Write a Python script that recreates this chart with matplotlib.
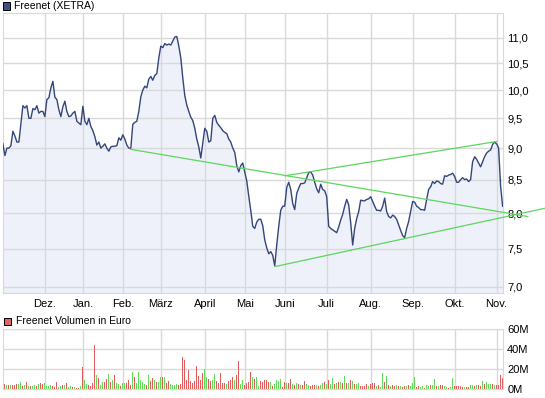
import numpy as np
import matplotlib.pyplot as plt
from matplotlib.patches import Rectangle

plt.rcParams['font.family'] = ['Liberation Sans', 'DejaVu Sans']

# Schlusskurse Freenet (XETRA), ein Wert pro Handelstag, Nov. bis Nov.
kurs = [
    9.07, 8.88, 9.0, 9.0, 9.04, 9.28, 9.2, 9.1, 9.1, 9.4,
    9.72, 9.68, 9.72, 9.5, 9.5, 9.67, 9.65, 9.72, 9.59, 9.62,
    9.62, 9.53, 9.83, 9.86, 10.04, 10.16, 9.87, 9.83, 9.65, 9.53,
    9.7, 9.8, 9.62, 9.53, 9.54, 9.59, 9.62, 9.45, 9.42, 9.39,
    9.71, 9.45, 9.39, 9.5, 9.36, 9.29, 9.19, 9.05, 9.1, 9.0,
    9.03, 9.07, 9.0, 8.95, 9.02, 9.03, 9.03, 9.04, 9.17, 9.13,
    9.22, 9.15, 9.05, 9.0,
    9.0, 9.4, 9.43, 9.45, 9.62, 9.88, 10.0, 10.07, 10.04, 10.2,
    10.25, 10.18, 10.27, 10.3, 10.6, 10.83, 10.8, 10.88, 10.85, 10.87,
    10.85, 10.93, 11.01, 11.02, 10.83, 10.6, 10.22, 9.9, 9.73, 9.62,
    9.52, 9.46, 9.33, 9.15, 9.02, 8.84, 9.08, 9.33, 9.28, 9.1,
    9.12, 9.5, 9.55, 9.43, 9.38, 9.34, 9.29, 9.26, 9.24, 9.15,
    9.1, 9.0, 8.93, 8.72, 8.62, 8.72, 8.76, 8.62, 8.48, 8.25,
    8.04,
    7.81, 7.78, 7.87, 7.91, 7.91, 7.82, 7.62, 7.51, 7.43, 7.46,
    7.41, 7.27, 7.55, 7.81, 8.04, 8.1, 8.1, 8.38, 8.46, 8.35,
    8.14, 8.05, 8.29, 8.37, 8.44, 8.44, 8.45, 8.53, 8.61, 8.62,
    8.57, 8.46, 8.36, 8.3, 8.43, 8.35, 8.33, 8.24, 7.81, 7.78,
    7.76, 7.74, 7.72, 7.8, 7.9, 7.98, 8.1, 8.2, 8.12, 7.86,
    7.55, 7.78, 7.92, 8.02, 8.19, 8.18, 8.18, 8.2, 8.21, 8.24,
    8.17, 8.1, 8.04,
    8.04, 8.03, 8.1, 8.22, 8.02, 7.95, 7.93, 7.97, 7.95, 7.91,
    7.83, 7.75, 7.68, 7.65, 7.78, 7.88, 8.02, 8.17, 8.16, 8.1,
    8.08, 8.05, 8.05, 8.04, 8.2, 8.35, 8.39, 8.47, 8.44, 8.48,
    8.47, 8.44, 8.43, 8.56, 8.55, 8.57, 8.58, 8.6, 8.55, 8.46,
    8.46, 8.5, 8.53, 8.5, 8.51, 8.47, 8.5, 8.78, 8.86, 8.82,
    8.76, 8.7, 8.78, 8.86, 8.92, 8.95, 8.97, 9.06, 9.1, 9.07,
    9.0, 8.4, 8.1,
]

# Umsatz in Mio. Euro pro Handelstag
volumen = [
    6.0, 5.3, 4.3, 4.3, 4.3, 4.3, 4.3, 5.3, 5.3, 7.3,
    3.7, 4.3, 7.3, 3.3, 3.3, 3.3, 4.3, 3.3, 5.3, 6.3,
    5.3, 6.3, 3.3, 3.3, 4.3, 3.3, 2.7, 7.3, 2.7, 3.3,
    4.3, 4.3, 6.3, 2.7, 3.3, 2.7, 2.7, 1.7, 1.7, 3.3,
    22.3, 9.3, 5.3, 4.3, 3.3, 6.3, 44.3, 14.3, 11.3, 4.3,
    7.3, 7.3, 10.3, 15.3, 7.3, 9.3, 14.3, 6.3, 5.3, 3.3,
    6.3, 6.3, 6.3, 9.3, 4.3, 17.3, 12.3, 6.3, 17.3, 9.3,
    7.3, 5.3, 4.3, 14.3, 8.3, 11.3, 9.3, 7.3, 7.3, 12.3,
    12.3, 12.3, 6.3, 8.3, 5.3, 4.3, 4.3, 5.3, 4.3, 5.3,
    32.3, 29.3, 9.3, 19.3, 8.3, 6.3, 8.3, 23.3, 13.3, 9.3,
    16.3, 20.3, 12.3, 10.3, 8.3, 9.3, 15.3, 8.3, 6.3, 16.3,
    6.3, 6.3, 5.3, 8.3, 9.3, 12.3, 9.3, 14.3, 28.3, 5.3,
    9.3, 4.3, 6.3, 7.3, 17.3, 12.3,
    10.3, 12.3, 3.3, 8.3, 7.3, 9.3, 9.3, 7.3, 7.3, 3.3,
    5.3, 9.3, 8.3, 10.3, 2.3, 7.3, 6.3, 6.3, 10.3, 5.3,
    4.3, 6.3, 5.3, 4.3, 4.3, 8.3, 5.3, 4.3, 3.3, 4.3,
    4.3, 4.3, 3.3, 4.3, 6.3, 7.3, 5.3, 9.3, 5.3, 11.3,
    5.3, 6.3, 7.3, 7.3, 6.3, 13.3, 6.3, 6.3, 9.3, 8.3,
    5.3, 5.3, 6.3, 3.3, 3.3, 3.3, 5.3, 3.3, 5.3, 6.3,
    6.3, 3.3, 4.3, 2.3, 16.3, 7.3, 13.3, 4.3, 3.3, 4.3,
    3.3, 4.3, 3.3, 3.3, 2.3, 3.3, 3.3, 4.3, 3.3, 6.3,
    12.3, 2.3, 3.3, 2.3, 3.3, 1.3, 4.3, 3.3, 4.3, 4.3,
    10.3, 3.3, 3.3, 4.3, 4.3, 3.3, 2.3, 1.3, 2.3, 11.3,
    3.3, 3.3, 3.3, 3.3, 2.3, 2.3, 2.3, 2.3, 4.3, 4.3,
    3.3, 4.3, 4.3, 3.3, 8.3, 5.3, 7.3, 5.3, 5.3, 5.3,
    4.3, 4.3, 4.3, 14.3, 11.3,
]

# 1 = Tag mit Kursplus (gruen), 0 = Kursminus (rot)
tag_plus = [
    1, 0, 1, 0, 1, 0, 0, 0, 1, 1,
    0, 1, 0, 1, 0, 1, 1, 0, 1, 0,
    0, 1, 1, 1, 1, 0, 0, 0, 1, 1,
    0, 1, 0, 1, 1, 0, 1, 0, 0, 1,
    0, 1, 1, 0, 0, 0, 0, 1, 0, 1,
    1, 0, 0, 1, 0, 1, 0, 1, 1, 0,
    1, 1, 0, 0, 0, 1, 0, 1, 1, 1,
    1, 1, 0, 1, 0, 0, 1, 0, 1, 1,
    0, 1, 0, 0, 1, 1, 1, 1, 0, 0,
    0, 0, 0, 0, 0, 0, 0, 0, 0, 0,
    0, 1, 1, 0, 0, 1, 1, 0, 0, 0,
    0, 0, 1, 0, 0, 0, 1, 0, 0, 1,
    1, 0, 0, 0, 0, 1,
    0, 1, 1, 0, 0, 0, 0, 0, 1, 0,
    1, 1, 1, 1, 0, 0, 1, 0, 0, 1,
    0, 1, 0, 1, 0, 0, 1, 1, 0, 0,
    0, 1, 0, 1, 1, 0, 1, 0, 1, 1,
    0, 1, 0, 1, 0, 1, 0, 1, 0, 1,
    0, 1, 1, 0, 0, 0, 0, 1, 0, 0,
    0, 1, 0, 1, 1, 0, 1, 0, 1, 0,
    0, 1, 0, 1, 0, 0, 1, 0, 1, 1,
    1, 0, 0, 1, 1, 0, 1, 1, 0, 1,
    1, 0, 1, 0, 0, 1, 1, 0, 1, 1,
    0, 0, 0, 0, 0, 1, 0, 0, 1, 1,
    0, 1, 0, 0, 1, 0, 1, 1, 1, 0,
    1, 0, 0, 0, 0,
]

monate = ["Dez.", "Jan.", "Feb.", "März", "April", "Mai",
          "Juni", "Juli", "Aug.", "Sep.", "Okt.", "Nov."]
monat_start = [21, 40, 60, 79, 101, 121, 141, 162, 184, 205, 226, 247]

kurs_ticks = [7.0, 7.5, 8.0, 8.5, 9.0, 9.5, 10.0, 10.5, 11.0]
vol_ticks = [0, 20, 40, 60]

# Trendlinien: (Handelstage, Kurse)
trend_fallend = ([64, 262.6], [8.98, 7.95])
trend_oben = ([141.2, 247.2], [8.56, 9.11])
trend_unten = ([136.2, 271.2], [7.26, 8.07])

navy = '#34467a'
gitter = '#d9d9d9'
gruen = '#5cd65c'

fig = plt.figure(figsize=(5.45, 3.98), dpi=100)
W, H = 545.0, 398.0
ax = fig.add_axes([2.5 / W, 1 - 293 / H, 500.5 / W, 280 / H])
ax_v = fig.add_axes([2.5 / W, 1 - 389.3 / H, 500.5 / W, 60 / H])

x = np.arange(len(kurs))
ymin, ymax = 6.92, 11.5

ax.set_yscale('log')
ax.fill_between(x, kurs, ymin, color='#eef1f9', lw=0, zorder=0.2)
ax.plot(x, kurs, color=navy, lw=1.0, zorder=3)
for tx, ty in (trend_fallend, trend_oben, trend_unten):
    ax.plot(tx, ty, color=gruen, lw=0.9, zorder=4, clip_on=False)

ax.set_xlim(-0.2, 250.2)
ax.set_ylim(ymin, ymax)
ax.set_yticks(kurs_ticks)
ax.set_yticklabels([f"{v:.1f}".replace('.', ',') for v in kurs_ticks])
ax.yaxis.set_minor_locator(plt.NullLocator())
ax.yaxis.tick_right()
ax.set_xticks(monat_start)
ax.set_xticklabels(monate)
ax.grid(True, color=gitter, lw=1.0, zorder=0.5)
ax.set_axisbelow(True)
ax.tick_params(length=0, labelsize=8, colors='black')
ax.tick_params(axis='y', pad=3)
ax.tick_params(axis='x', pad=4)
for s in ax.spines.values():
    s.set_color(gitter)

# Volumen
xv = np.arange(len(volumen))
farben = ['#63d95a' if p else '#e05c5c' for p in tag_plus]
ax_v.bar(xv, volumen, width=0.55, color=farben, lw=0, zorder=2)
ax_v.set_xlim(-0.2, 250.2)
ax_v.set_ylim(0, 60)
ax_v.set_yticks(vol_ticks)
ax_v.set_yticklabels([f"{v}M" for v in vol_ticks])
ax_v.yaxis.tick_right()
ax_v.set_xticks(monat_start)
ax_v.set_xticklabels([])
ax_v.grid(True, color=gitter, lw=1.0)
ax_v.set_axisbelow(True)
ax_v.tick_params(length=0, labelsize=8, colors='black')
ax_v.tick_params(axis='y', pad=3)
for s in ax_v.spines.values():
    s.set_color(gitter)

# Legenden oben links
fig.patches.append(Rectangle((2.5 / W, 1 - 9.5 / H), 7 / W, 7 / H,
                             transform=fig.transFigure, facecolor='#3d5080',
                             edgecolor='black', lw=0.7))
fig.text(14 / W, 1 - 6.3 / H, "Freenet (XETRA)", fontsize=7.5, va='center')
fig.patches.append(Rectangle((3.5 / W, 1 - 325 / H), 7 / W, 7 / H,
                             transform=fig.transFigure, facecolor='#e06666',
                             edgecolor='black', lw=0.7))
fig.text(15.5 / W, 1 - 321.5 / H, "Freenet Volumen in Euro", fontsize=7.5, va='center')

fig.savefig('out.png', dpi=100)
